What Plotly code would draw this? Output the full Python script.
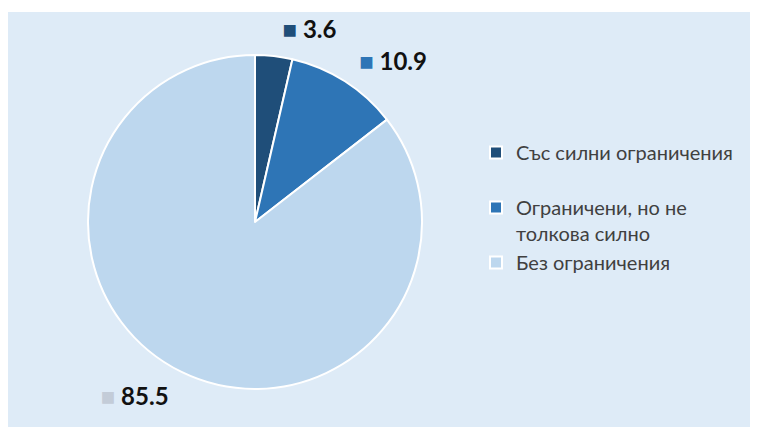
import plotly.graph_objects as go

categories = ["Със силни ограничения", "Ограничени, но не<br>толкова силно", "Без ограничения"]
values = [3.6, 10.9, 85.5]
colors = ["#1f4e79", "#2e75b6", "#bdd7ee"]
label_square_colors = ["#1f4e79", "#2e75b6", "#c3ccd8"]

# first legend label gets a trailing blank line to reproduce the airy legend spacing
legend_labels = [categories[0] + "<br>\u00a0", categories[1], categories[2]]
texts = [f"<span style='color:{c}'>■</span> {v}" for c, v in zip(label_square_colors, values)]

W, H = 758, 427
OFF = 8  # page body margin of the exported html
cx, cy, r = 255 - OFF, 222 - OFF, 167
r_lab = r + 13


def dom(rad):
    return dict(x=[(cx - rad) / W, (cx + rad) / W], y=[1 - (cy + rad) / H, 1 - (cy - rad) / H])


fig = go.Figure()
fig.add_trace(go.Pie(
    labels=legend_labels, values=values, sort=False, direction="clockwise", rotation=0,
    marker=dict(colors=colors, line=dict(color="white", width=2)),
    textinfo="none", hoverinfo="label+value", domain=dom(r), showlegend=True,
))
fig.add_trace(go.Pie(
    labels=legend_labels, values=values, sort=False, direction="clockwise", rotation=0,
    marker=dict(colors=["rgba(0,0,0,0)"] * 3, line=dict(width=0)),
    text=texts, textinfo="text", textposition="outside",
    outsidetextfont=dict(family="Lato", size=24, color="#111111", weight="bold"),
    hoverinfo="skip", domain=dom(r_lab), showlegend=False,
))

fig.update_layout(
    width=W, height=H,
    margin=dict(l=0, r=0, t=0, b=0),
    paper_bgcolor="white",
    font=dict(family="Lato", color="#404040"),
    legend=dict(
        x=468 / W, y=1 - 125 / H, xanchor="left", yanchor="top",
        bgcolor="rgba(0,0,0,0)",
        font=dict(family="Lato", size=20, color="#404040"),
        valign="top",
    ),
    shapes=[dict(type="rect", xref="paper", yref="paper", x0=0, x1=1, y0=0, y1=1 - 4 / H,
                 fillcolor="#deebf7", line=dict(width=0), layer="below")],
)

fig.write_html("out.html")
